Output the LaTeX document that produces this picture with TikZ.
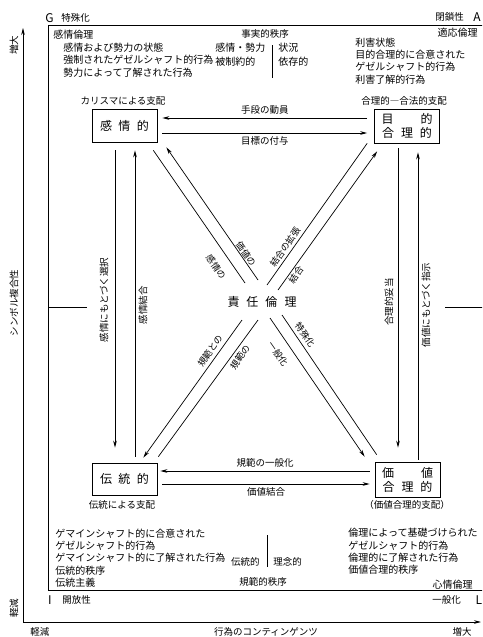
\documentclass[tikz,border=0pt]{standalone}
\usepackage{fontspec}
\setmainfont{Noto Sans CJK JP}
\usetikzlibrary{arrows.meta,calc}
\begin{document}
\begin{tikzpicture}[x=1pt,y=-1pt,line width=0.7pt,
  every node/.style={inner sep=0pt,font=\fontsize{9.5}{12}\selectfont},
  box/.style={draw,minimum width=65pt,minimum height=33pt,align=center,font=\fontsize{12}{14}\selectfont},
  arr/.style={-{Stealth[length=7pt,width=3.6pt]}},
  txt/.style={anchor=west,align=left,font=\fontsize{10}{12.3}\selectfont},
  dlab/.style={font=\fontsize{9}{11}\selectfont},
  vlab/.style={rotate=90,font=\fontsize{9.5}{11}\selectfont},
  big/.style={font=\fontsize{12}{14}\selectfont}]
\clip (0,0) rectangle (482,637);
\fill[white] (0,0) rectangle (482,637);

% axes
\coordinate (org) at (23,622);
\coordinate (ytop) at (23,28);
\coordinate (xend) at (481,622);
\draw[arr] (org) -- (ytop);
\draw[arr] (org) -- (xend);
\node[vlab] (yhi) at (14,45) {増大};
\node[vlab] (ylab) at (14,303) {シンボル複合性};
\node[vlab] (ylo) at (14,608) {軽減};
\node (xlo) at (40,632) {軽減};
\node (xlab) at (266,632) {行為のコンティンゲンツ};
\node (xhi) at (462,632) {増大};

% frame
\coordinate (f1) at (492,25);
\coordinate (f2) at (48,25);
\coordinate (f3) at (48,590);
\coordinate (f4) at (492,590);
\draw (f1) -- (f2) -- (f3) -- (f4);
\coordinate (tl1) at (48,307);
\coordinate (tl2) at (87,307);
\coordinate (tr1) at (445,307);
\coordinate (tr2) at (490,307);
\draw (tl1) -- (tl2);
\draw (tr1) -- (tr2);

% corner labels
\node[anchor=west,big] (G) at (45,18) {G};
\node[anchor=west] (Gl) at (61,18) {特殊化};
\node[anchor=west] (Al) at (435,17) {閉鎖性};
\node[big] (A) at (477,17) {A};
\node[big] (I) at (50,600) {I};
\node[anchor=west] (Il) at (62,600) {開放性};
\node[anchor=west] (Ll) at (432,600) {一般化};
\node[big] (L) at (479,600) {L};

% top texts
\node[txt] (t1) at (53,35) {感情倫理};
\node[txt] (t2) at (63,60) {感情および勢力の状態\\強制されたゲゼルシャフト的行為\\勢力によって了解された行為};
\node (t3) at (265,34) {事実的秩序};
\node[txt] (t4) at (215,55) {感情・勢力\\[1.5pt]被制約的};
\coordinate (s1) at (272,45);
\coordinate (s2) at (272,78);
\draw (s1) -- (s2);
\node[txt] (t5) at (278,55) {状況\\[1.5pt]依存的};
\node[anchor=east,font=\fontsize{10}{12}\selectfont] (t6) at (478,33) {適応倫理};
\node[txt] (t7) at (355,61) {利害状態\\目的合理的に合意された\\ゲゼルシャフト的行為\\利害了解的行為};
\node (t8) at (123,101) {カリスマによる支配};
\node (t9) at (404,101) {合理的―合法的支配};

% boxes
\node[box] (kanjo) at (124.5,126) {感\hspace{6.5pt}情\hspace{6.5pt}的};
\node[box,minimum height=34pt] (mokuteki) at (407,126) {目\hspace{27pt}的\\合\hspace{7pt}理\hspace{7pt}的};
\node[box,minimum height=32pt] (dento) at (124.5,479) {伝\hspace{6.5pt}統\hspace{6.5pt}的};
\node[box,minimum height=35pt] (kachi) at (407.5,479.5) {価\hspace{27pt}値\\合\hspace{7pt}理\hspace{7pt}的};
\node (t10) at (122,505) {伝統による支配};
\node (t11) at (407,505) {（価値合理的支配）};

% horizontal arrows
\draw[arr] ($(mokuteki.west)+(-7,-8)$) -- node[above=3pt] (h1) {手段の動員} ($(kanjo.east)+(5,-8)$);
\draw[arr] ($(kanjo.east)+(5,7)$) -- node[below=3pt] (h2) {目標の付与} ($(mokuteki.west)+(-7,7)$);
\draw[arr] ($(kachi.west)+(-5,-8.5)$) -- node[above=3pt] (h3) {規範の一般化} ($(dento.east)+(3,-8)$);
\draw[arr] ($(dento.east)+(5,5)$) -- node[below=3pt] (h4) {価値結合} ($(kachi.west)+(-5,4.5)$);

% vertical arrows
\draw[arr] ($(kanjo.south)+(-9.5,7.5)$) -- ($(dento.north)+(-9.5,-15)$);
\draw[arr] ($(dento.north)+(10.5,-6)$) -- ($(kanjo.south)+(10.5,7.5)$);
\draw[arr] ($(mokuteki.south)+(-9,5)$) -- ($(kachi.north)+(-9.5,-14)$);
\draw[arr] ($(kachi.north)+(10.5,-2)$) -- ($(mokuteki.south)+(11,9)$);
\node[vlab] (v1) at (104,300) {感情にもとづく選択};
\node[vlab] (v2) at (143,305) {感情結合};
\node[vlab] (v3) at (389,302) {合理的妥当};
\node[vlab] (v4) at (426,305) {価値にもとづく指示};

% center
\node[big] (center) at (262,302) {責\hspace{7pt}任\hspace{7pt}倫\hspace{7pt}理};
\coordinate (a2) at (245,283);
\coordinate (b1) at (258,280);
\coordinate (c2) at (267,285);
\coordinate (d1) at (278,290);
\coordinate (e1) at (270,318);
\coordinate (f1b) at (282,315);
\coordinate (g1) at (242,320);
\coordinate (h1b) at (258,320);

% diagonals
\draw ($(kanjo.south east)+(-4,7.5)$) -- (a2);
\draw[arr] (b1) -- ($(kanjo.south east)+(9,4.5)$);
\draw ($(mokuteki.south west)+(-7,0)$) -- (c2);
\draw[arr] (d1) -- ($(mokuteki.south west)+(3,8)$);
\draw[arr] (e1) -- ($(kachi.north west)+(-10,-5)$);
\draw (f1b) -- ($(kachi.north west)+(2,-7)$);
\draw[arr] (g1) -- ($(dento.north east)+(-14,-5)$);
\draw (h1b) -- ($(dento.north east)+(1,-6)$);

\node[dlab,rotate=-55] (d_a) at (216,267) {感情の};
\node[dlab,rotate=-55] (d_b) at (246,254) {価値の};
\node[dlab,rotate=55] (d_c) at (285,247) {結合の拡張};
\node[dlab,rotate=55] (d_d) at (296,275) {結合};
\node[dlab,rotate=-55] (d_e) at (305,335) {特殊化};
\node[dlab,rotate=-55] (d_f) at (278,354) {一般化};
\node[dlab,rotate=55] (d_g) at (210,351) {規範との};
\node[dlab,rotate=55] (d_h) at (240,357) {規範の};

% bottom texts
\node[txt] (b_l) at (55,558) {ゲマインシャフト的に合意された\\ゲゼルシャフト的行為\\ゲマインシャフト的に了解された行為\\伝統的秩序\\伝統主義};
\node[anchor=east] (b_c1) at (260,562) {伝統的};
\coordinate (s3) at (267,535);
\coordinate (s4) at (267,567);
\draw (s3) -- (s4);
\node[anchor=west] (b_c2) at (273,562) {理念的};
\node (b_c3) at (263,582) {規範的秩序};
\node[txt] (b_r) at (348,551.5) {倫理によって基礎づけられた\\ゲゼルシャフト的行為\\倫理的に了解された行為\\価値合理的秩序};
\node[anchor=east,font=\fontsize{10}{12}\selectfont] (b_r2) at (473,585) {心情倫理};
\end{tikzpicture}
\end{document}
